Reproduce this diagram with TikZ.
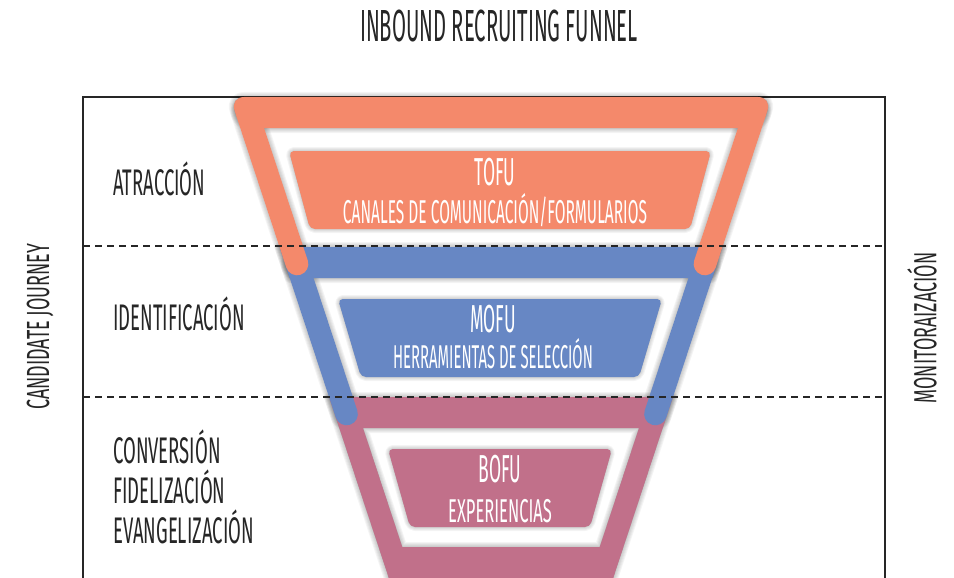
\documentclass[tikz,border=0pt]{standalone}
\usepackage{fontspec}
\newfontfamily\hand{Fira Sans}[FakeStretch=0.45]
\newfontfamily\handmid{Fira Sans}[FakeStretch=0.47]
\newfontfamily\handwide{Fira Sans}[FakeStretch=0.50]
\newfontfamily\handside{Fira Sans}[FakeStretch=0.56]
\newcommand\hfs[1]{\hand\fontsize{#1}{#1}\selectfont}
\newcommand\hfm[1]{\handmid\fontsize{#1}{#1}\selectfont}
\newcommand\hfw[1]{\handwide\fontsize{#1}{#1}\selectfont}
\newcommand\hfr[1]{\handside\fontsize{#1}{#1}\selectfont}
\definecolor{tofuc}{HTML}{F4896B}
\definecolor{mofuc}{HTML}{6787C4}
\definecolor{bofuc}{HTML}{C1708A}
\definecolor{inkc}{HTML}{262626}
\begin{document}
\begin{tikzpicture}[x=1pt,y=-1pt,
  label/.style={inner sep=0pt, text=inkc},
  boxtext/.style={inner sep=0pt, text=white},
  guide/.style={inkc, line width=1.2pt, dash pattern=on 7pt off 5pt},
  arm/.style={line width=22.6pt, line cap=round},
  haze/.style={black, opacity=0.045}]
\useasboundingbox (0,0) rectangle (954,578);

% ---- frame ----
\draw[inkc, line width=1.4pt] (83,97) rectangle (885,578.4);

% ---- funnel geometry ----
% pink (bottom) band: outer trapezoid with an inner window
\coordinate (pa) at (329.09,397); \coordinate (pb) at (672.91,397);
\coordinate (pc) at (605.92,600); \coordinate (pd) at (396.08,600);
\coordinate (pe) at (363.00,428); \coordinate (pf) at (639.00,428);
\coordinate (pg) at (599.73,547); \coordinate (ph) at (402.27,547);
% blue (middle) band
\coordinate (ba) at (279.59,247); \coordinate (bb) at (722.41,247);
\coordinate (bc) at (712.18,278); \coordinate (bd) at (289.82,278);
\coordinate (bl1) at (297.04,264); \coordinate (bl2) at (346.54,414);
\coordinate (br1) at (704.96,264); \coordinate (br2) at (655.46,414);
% orange (top) band
\coordinate (oa) at (230.09,97); \coordinate (ob) at (771.91,97);
\coordinate (oc) at (761.68,128); \coordinate (od) at (240.32,128);
\coordinate (ol1) at (246.88,112); \coordinate (ol2) at (297.04,264);
\coordinate (or1) at (755.12,112); \coordinate (or2) at (704.96,264);

\def\pinkband{(pa) -- (pb) -- (pc) -- (pd) -- cycle (pe) -- (pf) -- (pg) -- (ph) -- cycle}
\def\bluebar{(ba) -- (bb) -- (bc) -- (bd) -- cycle}
\def\bluearms{(bl1) -- (bl2) (br1) -- (br2)}
\def\orangebar{(od) -- (oa) -- (ob) -- (oc) -- cycle}
\def\orangearms{(ol1) -- (ol2) (or1) -- (or2)}

% soft shadow of the funnel
\foreach \k in {1,...,5}{
  \begin{scope}[shift={(3,4)}, haze]
    \filldraw[line width=\k*2pt, line join=round, even odd rule] \pinkband;
    \filldraw[line width=\k*2pt, line join=round] \bluebar;
    \filldraw[line width=\k*2pt, line join=round, rounded corners=14pt] \orangebar;
    \draw[line width=22.6pt+\k*2pt, line cap=round] \bluearms;
    \draw[line width=22.6pt+\k*2pt, line cap=round] \orangearms;
  \end{scope}
}

% funnel bands
\fill[bofuc, even odd rule] \pinkband;
\fill[mofuc] \bluebar;
\draw[mofuc, arm] \bluearms;
\fill[tofuc, rounded corners=14pt] \orangebar;
\draw[tofuc, arm] \orangearms;

% ---- stage separators ----
\coordinate (s1l) at (83,246); \coordinate (s1r) at (885,246);
\coordinate (s2l) at (83,397); \coordinate (s2r) at (885,397);
\draw[guide] (s1l) -- (s1r);
\draw[guide] (s2l) -- (s2r);

% ---- inner boxes ----
\coordinate (ta) at (289,151); \coordinate (tb) at (711,151);
\coordinate (tc) at (690,229); \coordinate (td) at (310,229);
\coordinate (ma) at (338,299); \coordinate (mb) at (662,299);
\coordinate (mc) at (639,377); \coordinate (md) at (361,377);
\coordinate (fa) at (388,449); \coordinate (fb) at (612,449);
\coordinate (fc) at (590,527); \coordinate (fd) at (410,527);
\def\tofubox{(ta) -- (tb) -- (tc) -- (td) -- cycle}
\def\mofubox{(ma) -- (mb) -- (mc) -- (md) -- cycle}
\def\bofubox{(fa) -- (fb) -- (fc) -- (fd) -- cycle}

\foreach \k in {1,...,4}{
  \begin{scope}[shift={(4,4)}, haze]
    \filldraw[line width=\k*2pt, line join=round, rounded corners=5pt] \tofubox;
    \filldraw[line width=\k*2pt, line join=round, rounded corners=5pt] \mofubox;
    \filldraw[line width=\k*2pt, line join=round, rounded corners=5pt] \bofubox;
  \end{scope}
}
\fill[tofuc, rounded corners=5pt] \tofubox;
\fill[mofuc, rounded corners=5pt] \mofubox;
\fill[bofuc, rounded corners=5pt] \bofubox;

% ---- texts ----
\node[label, anchor=base, font=\hfs{45}] (title) at (499,42) {INBOUND RECRUITING FUNNEL};

\node[label, anchor=base west, font=\hfw{37}] (atr) at (113,195) {ATRACCIÓN};
\node[label, anchor=base west, font=\hfw{37}] (ide) at (113,330) {IDENTIFICACIÓN};
\node[label, anchor=base west, font=\hfw{37}] (con) at (113,463) {CONVERSIÓN};
\node[label, anchor=base west, font=\hfw{37}] (fid) at (113,503) {FIDELIZACIÓN};
\node[label, anchor=base west, font=\hfw{37}] (eva) at (113,543) {EVANGELIZACIÓN};

\node[label, rotate=90, font=\hfr{32}] (cj) at (40,327) {CANDIDATE JOURNEY};
\node[label, rotate=90, font=\hfr{32}] (mon) at (922,328) {MONITORAIZACIÓN};

\node[boxtext, anchor=base, font=\hfs{39}] (tofu) at (495,185) {TOFU};
\node[boxtext, anchor=base, font=\hfm{33}] (tofus) at (495,223) {CANALES DE COMUNICACIÓN/FORMULARIOS};
\node[boxtext, anchor=base, font=\hfs{39}] (mofu) at (493,332) {MOFU};
\node[boxtext, anchor=base, font=\hfs{33}] (mofus) at (493,368) {HERRAMIENTAS DE SELECCIÓN};
\node[boxtext, anchor=base, font=\hfs{39}] (bofu) at (500,482) {BOFU};
\node[boxtext, anchor=base, font=\hfw{33}] (bofus) at (500,522) {EXPERIENCIAS};
\end{tikzpicture}
\end{document}
